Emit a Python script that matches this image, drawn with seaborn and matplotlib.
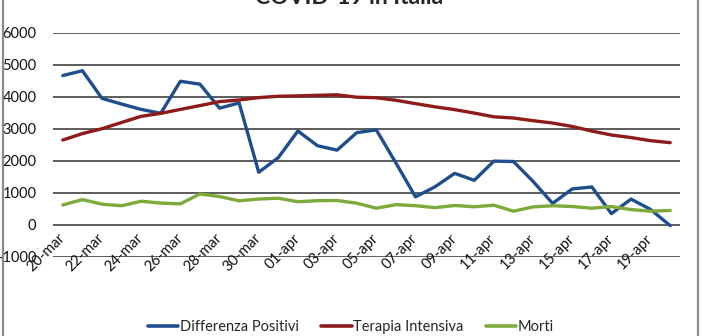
import matplotlib
matplotlib.use("Agg")
import matplotlib.pyplot as plt
import seaborn as sns
import pandas as pd
from matplotlib.patches import Rectangle
from matplotlib.lines import Line2D

dates = ["20-mar", "21-mar", "22-mar", "23-mar", "24-mar", "25-mar", "26-mar", "27-mar",
         "28-mar", "29-mar", "30-mar", "31-mar", "01-apr", "02-apr", "03-apr", "04-apr",
         "05-apr", "06-apr", "07-apr", "08-apr", "09-apr", "10-apr", "11-apr", "12-apr",
         "13-apr", "14-apr", "15-apr", "16-apr", "17-apr", "18-apr", "19-apr", "20-apr"]
diff_positivi = [4670, 4821, 3957, 3780, 3612, 3491, 4492, 4401, 3651, 3815, 1648, 2107,
                 2937, 2477, 2339, 2886, 2972, 1941, 880, 1195, 1615, 1396, 1996, 1984,
                 1363, 675, 1127, 1189, 355, 809, 486, -20]
terapia_intensiva = [2655, 2857, 3009, 3204, 3396, 3489, 3612, 3732, 3856, 3906, 3981, 4023,
                     4035, 4053, 4068, 3994, 3977, 3898, 3792, 3693, 3605, 3497, 3381, 3343,
                     3260, 3186, 3079, 2936, 2812, 2733, 2635, 2573]
morti = [627, 793, 651, 601, 743, 683, 662, 969, 889, 756, 812, 837, 727, 760, 766, 681,
         525, 636, 604, 542, 610, 570, 619, 431, 566, 602, 578, 525, 575, 482, 433, 454]
series_names = ["Differenza Positivi", "Terapia Intensiva", "Morti"]
yticks = [-1000, 0, 1000, 2000, 3000, 4000, 5000, 6000]
title = "COVID-19 in Italia"

sns.set_theme(style="white")
plt.rcParams['font.family'] = ['Lato', 'DejaVu Sans']

rows = []
for name, vals in zip(series_names, [diff_positivi, terapia_intensiva, morti]):
    for i, v in enumerate(vals):
        rows.append({"idx": i, "value": v, "serie": name})
df = pd.DataFrame(rows)

palette = {"Differenza Positivi": "#1F4E8C", "Terapia Intensiva": "#8E1A1A", "Morti": "#7DAA3A"}

fig = plt.figure(figsize=(7.02, 3.36), dpi=100)
ax = fig.add_axes([53/702, 1 - 257/336, (680 - 53)/702, (257 - 33)/336])

sns.lineplot(data=df, x="idx", y="value", hue="serie", palette=palette, ax=ax,
             linewidth=2.4, legend=False, sort=False)

ax.set_xlim(-0.5, len(dates) - 0.5)
ax.set_ylim(-1000, 6000)
ax.set_yticks(yticks)
ax.set_yticklabels([str(t) for t in yticks], fontsize=10.5, color="#111111")
for y in yticks:
    ax.axhline(y, color="#5c5c5c", lw=1.4, zorder=0)
ax.grid(False)
for s in ax.spines.values():
    s.set_visible(False)
ax.spines['bottom'].set_position(('data', 0))
ax.set_xticks(list(range(0, len(dates), 2)))
ax.set_xticklabels([dates[i] for i in range(0, len(dates), 2)], rotation=45,
                   ha='right', va='center', rotation_mode='anchor', fontsize=10.5, color="#111111")
ax.tick_params(axis='x', length=0, pad=8)
ax.tick_params(axis='y', length=0, pad=12)
ax.set_xlabel("")
ax.set_ylabel("")

handles = [Line2D([0], [0], color=palette[n], lw=2.6) for n in series_names]
fig.legend(handles, series_names, loc='center', bbox_to_anchor=(0.5, 1 - 327/336), ncol=3,
           frameon=False, fontsize=10.5, handlelength=2.1, handletextpad=0.12, columnspacing=1.5)

fig.text(349/702, 1 - 4/336, title, ha='center', va='baseline', fontsize=16.5, fontweight='bold')

fig.patches.append(Rectangle((3/702, -0.1), (698 - 3)/702, 1.2, transform=fig.transFigure,
                             fill=False, edgecolor="#8a8a8a", lw=1.6))

fig.savefig("out.png", dpi=100, facecolor="white")
